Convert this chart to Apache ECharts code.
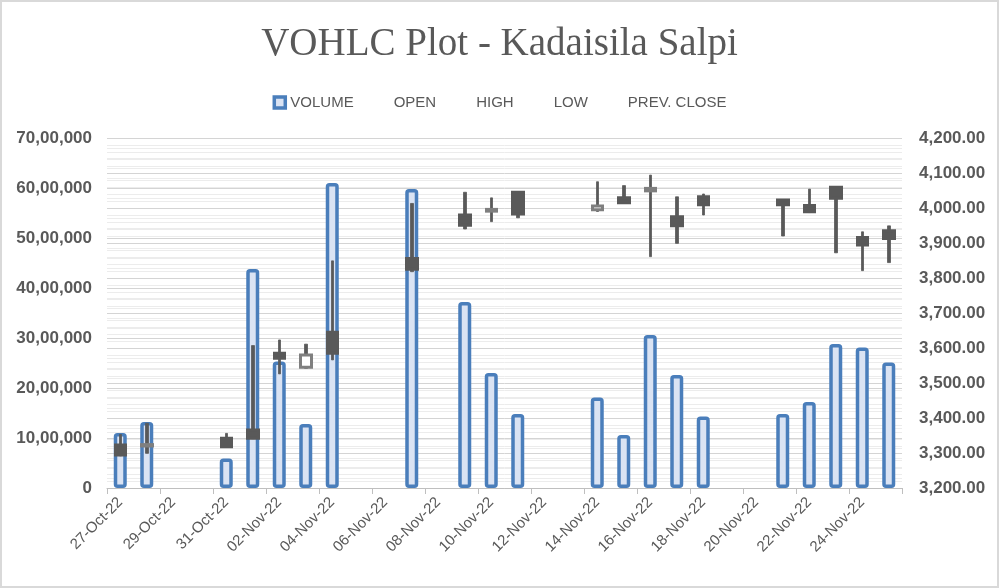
<!DOCTYPE html>
<html><head><meta charset="utf-8">
<script src="https://cdn.jsdelivr.net/npm/echarts@6/dist/echarts.min.js"></script>
<style>html,body{margin:0;padding:0;background:#fff}#c{width:999px;height:588px}</style>
</head><body><div id="c"></div>
<script>
const dates = ['27-Oct-22','28-Oct-22','29-Oct-22','30-Oct-22','31-Oct-22','01-Nov-22','02-Nov-22','03-Nov-22','04-Nov-22','05-Nov-22','06-Nov-22','07-Nov-22','08-Nov-22','09-Nov-22','10-Nov-22','11-Nov-22','12-Nov-22','13-Nov-22','14-Nov-22','15-Nov-22','16-Nov-22','17-Nov-22','18-Nov-22','19-Nov-22','20-Nov-22','21-Nov-22','22-Nov-22','23-Nov-22','24-Nov-22','25-Nov-22'];
const volume = [1100000,1320000,null,null,590000,4380000,2530000,1280000,6100000,null,null,5980000,null,3720000,2300000,1480000,null,null,1810000,1060000,3060000,2260000,1430000,null,null,1480000,1720000,2880000,2810000,2510000];
const open  = [3323,3320,null,null,3342,3366,3585,3545,3645,null,null,3856,null,3980,3991,4045,null,null,3995,4029,4049,3975,4032,null,null,4023,4007,4059,3916,3935];
const high  = [3353,3385,null,null,3356,3607,3623,3611,3849,null,null,4013,null,4045,4029,4046,null,null,4075,4064,4094,4032,4040,null,null,4024,4054,4060,3932,3949];
const low   = [3292,3299,null,null,3317,3341,3526,3542,3566,null,null,3818,null,3940,3961,3972,null,null,3990,4014,3861,3899,3980,null,null,3920,3987,3872,3821,3844];
const close = [3294,3324,null,null,3318,3342,3571,3580,3585,null,null,3825,null,3951,3996,3983,null,null,4006,4015,4056,3949,4009,null,null,4009,3989,4028,3894,3913];
const volumeTicks = [0,1000000,2000000,3000000,4000000,5000000,6000000,7000000];
const priceTicks = [3200,3300,3400,3500,3600,3700,3800,3900,4000,4100,4200];
const legendNames = ['VOLUME','OPEN','HIGH','LOW','PREV. CLOSE'];

function inr(v){
  const s = String(Math.round(v));
  if (s.length <= 3) return s;
  const last3 = s.slice(-3);
  const rest = s.slice(0,-3).replace(/\B(?=(\d{2})+(?!\d))/g, ',');
  return rest + ',' + last3;
}
function price(v){
  const p = v.toFixed(2).split('.');
  return p[0].replace(/\B(?=(\d{3})+(?!\d))/g, ',') + '.' + p[1];
}
const wickData = dates.map((d,i)=> high[i]==null ? '-' : [low[i], high[i], low[i], high[i]]);
const bodyData = dates.map((d,i)=> open[i]==null ? '-' : [open[i], close[i], Math.min(open[i],close[i]), Math.max(open[i],close[i])]);

const txt = '#595959';
const chart = echarts.init(document.getElementById('c'), null, {renderer:'canvas'});
chart.setOption({
  animation:false,
  backgroundColor:'#ffffff',
  title:{text:'VOHLC Plot - Kadaisila Salpi', left:'center', top:20,
    textStyle:{fontFamily:'Liberation Serif', fontSize:39, fontWeight:'normal', color:txt}},
  legend:{top:90, left:'center', itemWidth:11, itemHeight:11, itemGap:24,
    itemStyle:{borderWidth:3.5},
    textStyle:{fontFamily:'Liberation Sans', fontSize:15, color:txt},
    data: legendNames.map((n,i)=> i===0 ? {name:n, icon:'rect'} : {name:n, icon:'none'})},
  graphic:[{type:'rect', shape:{x:1,y:1,width:997,height:586}, style:{fill:'none', stroke:'#d9d9d9', lineWidth:2}, z:100, silent:true}],
  grid:{left:107, right:97, top:138, bottom:100},
  xAxis:{type:'category', data:dates, boundaryGap:true,
    axisLine:{show:true, lineStyle:{color:'#bfbfbf', width:1}},
    axisTick:{show:true, interval:1, length:6, lineStyle:{color:'#bfbfbf'}},
    axisLabel:{interval:1, rotate:45, color:txt, fontFamily:'Liberation Sans', fontSize:15, margin:12},
    splitLine:{show:false}},
  yAxis:[
    {type:'value', min:volumeTicks[0], max:volumeTicks[volumeTicks.length-1], interval:volumeTicks[1]-volumeTicks[0],
     axisLine:{show:false}, axisTick:{show:false},
     axisLabel:{formatter:inr, color:txt, fontFamily:'Liberation Sans', fontWeight:'bold', fontSize:17, margin:15},
     splitLine:{show:true, lineStyle:{color:'#d4d4d4'}},
     minorTick:{show:false, splitNumber:5},
     minorSplitLine:{show:true, lineStyle:{color:'#ececec'}}},
    {type:'value', position:'right', min:priceTicks[0], max:priceTicks[priceTicks.length-1], interval:priceTicks[1]-priceTicks[0],
     axisLine:{show:false}, axisTick:{show:false},
     axisLabel:{formatter:price, color:txt, fontFamily:'Liberation Sans', fontWeight:'bold', fontSize:17, margin:17},
     splitLine:{show:true, lineStyle:{color:'#d4d4d4'}},
     minorTick:{show:false, splitNumber:5},
     minorSplitLine:{show:true, lineStyle:{color:'#ececec'}}}
  ],
  series:[
    {name:'VOLUME', type:'bar', yAxisIndex:0, data:volume, barWidth:13,
     itemStyle:{color:'#dae3f3', borderColor:'#4a7ebb', borderWidth:3.5, borderRadius:2}},
    {name:'HL', type:'candlestick', yAxisIndex:1, data:wickData, barWidth:3,
     itemStyle:{color:'#595959', color0:'#595959', borderColor:'#595959', borderColor0:'#595959', borderWidth:0.8}},
    {name:'OC', type:'candlestick', yAxisIndex:1, data:bodyData, barWidth:11,
     itemStyle:{color:'#ffffff', color0:'#595959', borderColor:'#7f7f7f', borderColor0:'#595959', borderWidth:3}},
    {name:'OPEN', type:'line', yAxisIndex:1, data:[]},
    {name:'HIGH', type:'line', yAxisIndex:1, data:[]},
    {name:'LOW', type:'line', yAxisIndex:1, data:[]},
    {name:'PREV. CLOSE', type:'line', yAxisIndex:1, data:[]}
  ]
});
</script></body></html>
